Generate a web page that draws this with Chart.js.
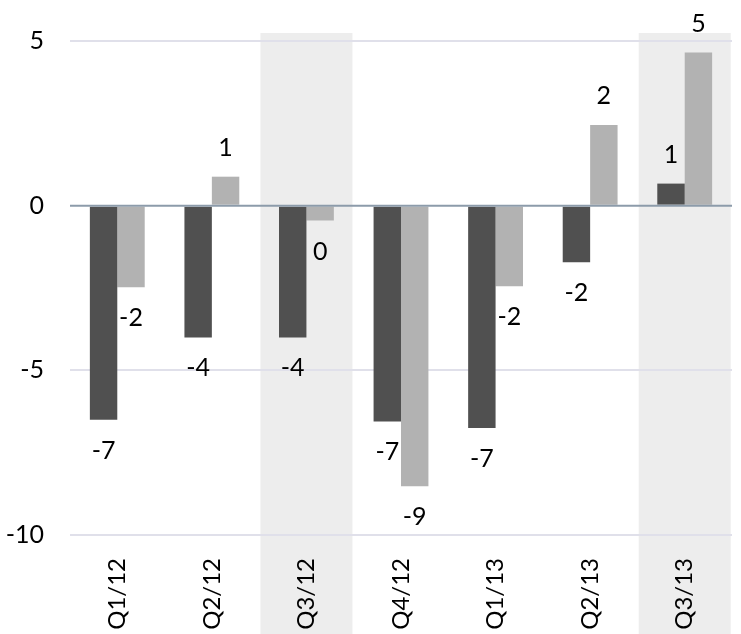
<!DOCTYPE html>
<html>
<head>
<meta charset="utf-8">
<script src="https://cdn.jsdelivr.net/npm/chart.js@4.4.1/dist/chart.umd.min.js"></script>
<style>
	html, body { margin: 0; padding: 0; background: #fff; }
	#chart { display: block; }
</style>
</head>
<body>
<canvas id="chart" width="741" height="634"></canvas>
<script>
// Quarterly change, two series

const categories = ['Q1/12', 'Q2/12', 'Q3/12', 'Q4/12', 'Q1/13', 'Q2/13', 'Q3/13'];
const darkSeries = [-6.5, -4.0, -4.0, -6.55, -6.75, -1.72, 0.67];
const lightSeries = [-2.48, 0.88, -0.45, -8.52, -2.45, 2.45, 4.65];
const shadedCats = ['Q3/12', 'Q3/13'];
const yTicks = [5, 0, -5, -10];

// Excel style rounding for the value labels
function fmt(v) {
	const r = Math.sign(v) * Math.round(Math.abs(v));
	return String(r === 0 ? 0 : r);
}

const bandPlugin = {
	id: 'bands',
	beforeDraw(chart) {
		const x = chart.scales.x;
		const ctx = chart.ctx;
		ctx.save();
		ctx.fillStyle = '#EDEDED';
		shadedCats.forEach(c => {
			const cx = x.getPixelForValue(categories.indexOf(c));
			ctx.fillRect(cx - 46, 33, 92, chart.height - 33);
		});
		ctx.restore();
	}
};

const overlayPlugin = {
	id: 'overlay',
	afterDatasetsDraw(chart) {
		const ctx = chart.ctx;
		const area = chart.chartArea;
		const y0 = chart.scales.y.getPixelForValue(0);
		ctx.save();
		// zero line sits on top of the bars
		ctx.strokeStyle = '#8C9BAA';
		ctx.lineWidth = 2;
		ctx.beginPath();
		ctx.moveTo(area.left, y0);
		ctx.lineTo(area.right, y0);
		ctx.stroke();

		ctx.fillStyle = '#000';
		ctx.font = '25px Lato';
		ctx.textAlign = 'center';
		ctx.textBaseline = 'middle';
		chart.data.datasets.forEach((ds, i) => {
			chart.getDatasetMeta(i).data.forEach((bar, j) => {
				const v = ds.data[j];
				const ty = v >= 0 ? bar.y - 29 : bar.y + 31;
				ctx.fillText(fmt(v), bar.x, ty);
			});
		});
		ctx.restore();
	}
};

Chart.defaults.font.family = 'Lato';
Chart.defaults.font.size = 25;
Chart.defaults.color = '#000';

new Chart(document.getElementById('chart'), {
	type: 'bar',
	data: {
		labels: categories,
		datasets: [{
			data: darkSeries,
			backgroundColor: '#505050'
		}, {
			data: lightSeries,
			backgroundColor: '#B2B2B2'
		}]
	},
	options: {
		responsive: false,
		animation: false,
		layout: { padding: { top: 39, right: 9, left: 0, bottom: 0 } },
		datasets: {
			bar: { barPercentage: 1, categoryPercentage: 0.58 }
		},
		plugins: {
			legend: { display: false },
			tooltip: { enabled: false }
		},
		scales: {
			x: {
				grid: { display: false },
				border: { display: false },
				ticks: { minRotation: 90, maxRotation: 90, padding: 15, font: { size: 24 } },
				afterFit(scale) { scale.height = 99; }
			},
			y: {
				min: -10,
				max: 5,
				afterBuildTicks(scale) {
					scale.ticks = yTicks.map(v => ({ value: v }));
				},
				grid: {
					color: ctx => ctx.tick && ctx.tick.value === 0 ? 'rgba(0,0,0,0)' : '#E0E0EA',
					lineWidth: 2,
					drawTicks: false
				},
				border: { display: false },
				ticks: { padding: 26 },
				afterFit(scale) { scale.width = 70; }
			}
		}
	},
	plugins: [bandPlugin, overlayPlugin]
});
</script>
</body>
</html>
